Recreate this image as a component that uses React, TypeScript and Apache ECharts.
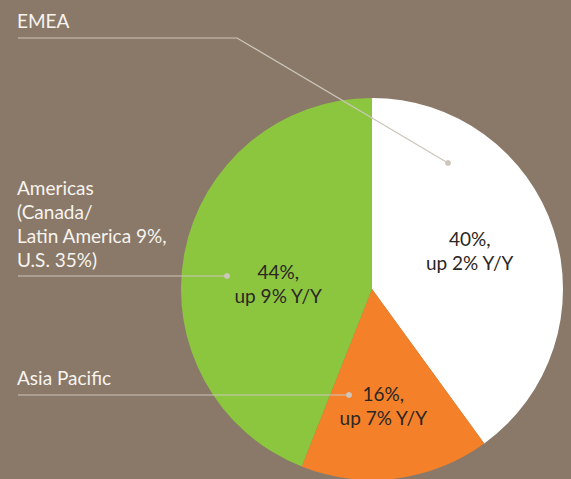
import React, { useEffect, useRef } from "react";
import * as echarts from "echarts";

const regions = ["EMEA", "Asia Pacific", "Americas"];
const shares = [40, 16, 44];
const growth = [2, 7, 9];
const sliceColors = ["#ffffff", "#f4812a", "#8cc63f"];
const labelOffsets = [
  [4, -8],
  [-1, 19],
  [3, 13],
];

const FONT = "Lato, 'DejaVu Sans', sans-serif";
const BG = "#8a7968";
const LINE = "#cdc6bc";

export default function App() {
  const ref = useRef<HTMLDivElement>(null);
  useEffect(() => {
    const chart = echarts.init(ref.current!, null, { renderer: "svg" });
    const textStyle = (text: string, x: number, y: number) => ({
      type: "text",
      x,
      y,
      style: {
        text,
        fill: "#f7f4ef",
        font: `19px ${FONT}`,
        lineHeight: 24,
        verticalAlign: "top",
      },
    });
    chart.setOption({
      animation: false,
      backgroundColor: BG,
      series: [
        {
          type: "pie",
          center: [372, 289],
          radius: 191,
          startAngle: 90,
          clockwise: true,
          silent: true,
          label: {
            show: true,
            position: "inside",
            formatter: (p: any) => `${p.value}%,\nup ${growth[p.dataIndex]}% Y/Y`,
            color: "#2b2623",
            fontFamily: FONT,
            fontSize: 19,
            lineHeight: 24,
            align: "center",
          },
          labelLayout: (p: any) => ({
            dx: labelOffsets[p.dataIndex][0],
            dy: labelOffsets[p.dataIndex][1],
          }),
          labelLine: { show: false },
          data: regions.map((r, i) => ({
            name: r,
            value: shares[i],
            itemStyle: { color: sliceColors[i] },
          })),
        },
      ],
      graphic: [
        textStyle("EMEA", 17, 8),
        textStyle("Americas\n(Canada/\nLatin America 9%,\nU.S. 35%)", 17, 175),
        textStyle("Asia Pacific", 17, 365),
        {
          type: "polyline",
          shape: { points: [[18, 38], [237, 38], [448, 163]] },
          style: { stroke: LINE, lineWidth: 1.2, fill: null },
          z: 10,
        },
        { type: "circle", shape: { cx: 448, cy: 163, r: 3 }, style: { fill: LINE }, z: 10 },
        {
          type: "line",
          shape: { x1: 18, y1: 276, x2: 227, y2: 276 },
          style: { stroke: LINE, lineWidth: 1.2 },
          z: 10,
        },
        { type: "circle", shape: { cx: 227, cy: 276, r: 3 }, style: { fill: LINE }, z: 10 },
        {
          type: "line",
          shape: { x1: 18, y1: 395, x2: 349, y2: 395 },
          style: { stroke: LINE, lineWidth: 1.2 },
          z: 10,
        },
        { type: "circle", shape: { cx: 349, cy: 395, r: 3 }, style: { fill: LINE }, z: 10 },
      ],
    });
    return () => chart.dispose();
  }, []);
  return (
    <div
      ref={ref}
      style={{ position: "fixed", left: 0, top: 0, width: 571, height: 479 }}
    />
  );
}
